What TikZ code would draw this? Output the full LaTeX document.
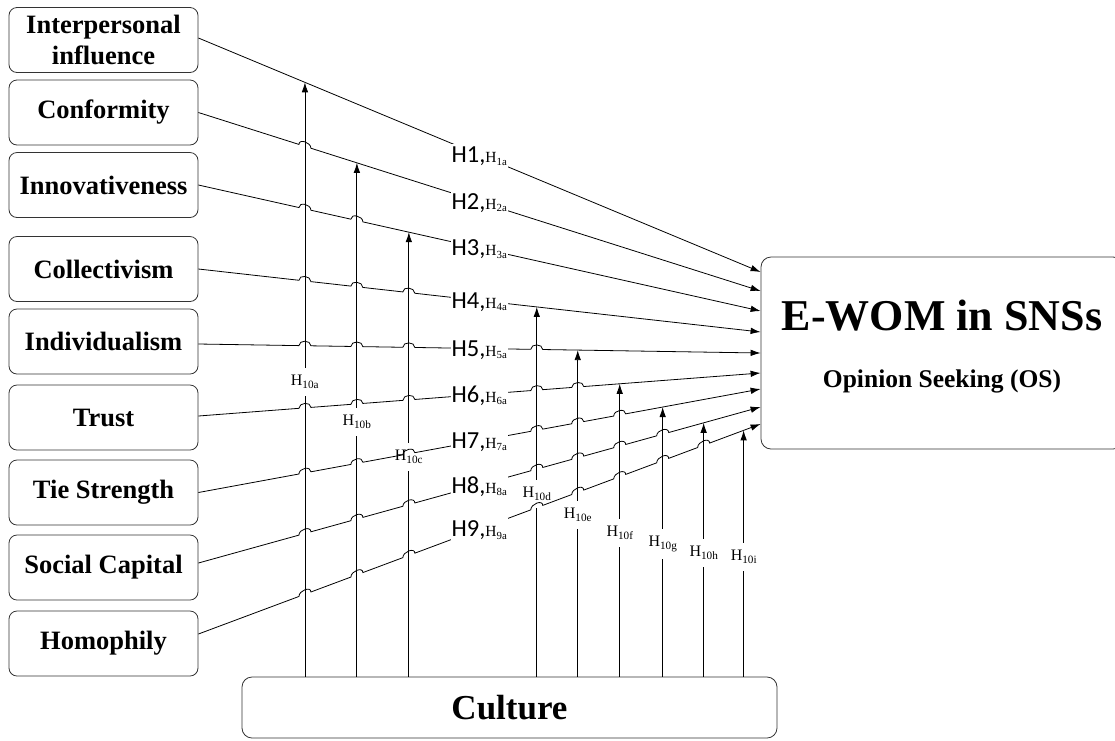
\documentclass[tikz,border=0pt]{standalone}
\usepackage{fontspec}
\setmainfont{Liberation Serif}
\newfontfamily\calibrifont{Carlito}
\usetikzlibrary{arrows.meta,calc}

\tikzset{
  factor/.style={draw=black!80, line width=0.8pt, rounded corners=8pt, minimum width=189pt, minimum height=65pt, inner sep=0pt, align=center, font=\fontsize{26.5}{31}\selectfont\bfseries},
  bigbox/.style={draw=black!80, line width=0.8pt, rounded corners=10pt, inner sep=0pt},
  link/.style={line width=0.8pt, -{Latex[length=10pt,width=6.5pt]}},
  hlab/.style={fill=white, inner xsep=1pt, inner ysep=3pt, font=\calibrifont\fontsize{24.5}{26}\selectfont},
  vlab/.style={fill=white, inner xsep=1pt, inner ysep=7pt, font=\fontsize{16}{18}\selectfont},
}
\newcommand{\hyp}[2]{H#1,{\rmfamily\fontsize{15.5}{17}\selectfont H\textsubscript{#2}}}

\begin{document}
\begin{tikzpicture}[x=1pt,y=-1pt]
\clip (0,0) rectangle (1115,740);

% antecedents
\node[factor] (inter) at (103.5,40) {Interpersonal\\influence};
\node[factor] (conf) at (103.5,112.5) {Conformity};
\node[factor] (innov) at (103.5,185) {Innovativeness};
\node[factor] (coll) at (103.5,269) {Collectivism};
\node[factor] (indiv) at (103.5,341.5) {Individualism};
\node[factor] (trust) at (103.5,417.5) {Trust};
\node[factor] (tie) at (103.5,492.5) {Tie Strength};
\node[factor] (social) at (103.5,567.5) {Social Capital};
\node[factor] (homo) at (103.5,643.5) {Homophily};

% outcome and moderator
\node[bigbox, minimum width=362pt, minimum height=192pt] (ewom) at (942,353) {};
\node[font=\fontsize{44}{48}\selectfont\bfseries] (ewomtitle) at (942,316) {E-WOM in SNSs};
\node[font=\fontsize{25.5}{28}\selectfont\bfseries] (os) at (942,381) {Opinion Seeking (OS)};
\node[bigbox, minimum width=535pt, minimum height=61pt, font=\fontsize{35}{38}\selectfont\bfseries] (culture) at (509.5,707.5) {Culture};

% start and end points of the paths
\coordinate (s1) at ([yshift=2pt]inter.east);
\coordinate (s2) at (conf.east);
\coordinate (s3) at (innov.east);
\coordinate (s4) at (coll.east);
\coordinate (s5) at ([yshift=-2.5pt]indiv.east);
\coordinate (s6) at ([yshift=1.5pt]trust.east);
\coordinate (s7) at (tie.east);
\coordinate (s8) at ([yshift=4.5pt]social.east);
\coordinate (s9) at ([yshift=9.5pt]homo.east);
\foreach \k/\y in {1/272,2/291,3/311,4/332,5/353,6/373,7/389,8/407,9/424}
  \coordinate (t\k) at (ewom.west |- 0,\y);

% moderating arrows from culture
\foreach \n/\k/\x/\y in {a/1/305/382, b/2/357/422, c/3/409/457, d/4/537/494, e/5/578/515, f/6/620/533, g/7/663/544, h/8/704/553, i/9/744/557} {
  \coordinate (on\n) at ($(s\k)!{(\x-198.4)/562.6}!(t\k)$);
  \coordinate (cul\n) at (culture.north -| on\n);
  \draw[link] (cul\n) -- (on\n);
  \node[vlab] (lab\n) at (\x,\y) {H\textsubscript{10\n}};
}

% direct paths, hopping over the moderator lines
\draw[link] (s1) -- (t1);
\foreach \k/\hops in {2/{305}, 3/{305,357}, 4/{305,357,409}, 5/{305,357,409,537}, 6/{305,357,409,537,578}, 7/{305,357,409,537,578,620}, 8/{305,357,409,537,578,620,663}, 9/{305,357,409,537,578,620,663,704}}
  \draw[link] (s\k) \foreach \x in \hops {
      -- ($(s\k)!{(\x-6-198.4)/562.6}!(t\k)$)
      .. controls +(0,-6) and +(0,-6) .. ($(s\k)!{(\x+6-198.4)/562.6}!(t\k)$)
    } -- (t\k);

% path labels
\foreach \k in {1,...,9}
  \node[hlab] (h\k) at ([yshift=-1.5pt]$(s\k)!0.5!(t\k)$) {\hyp{\k}{\k a}};

\end{tikzpicture}
\end{document}
